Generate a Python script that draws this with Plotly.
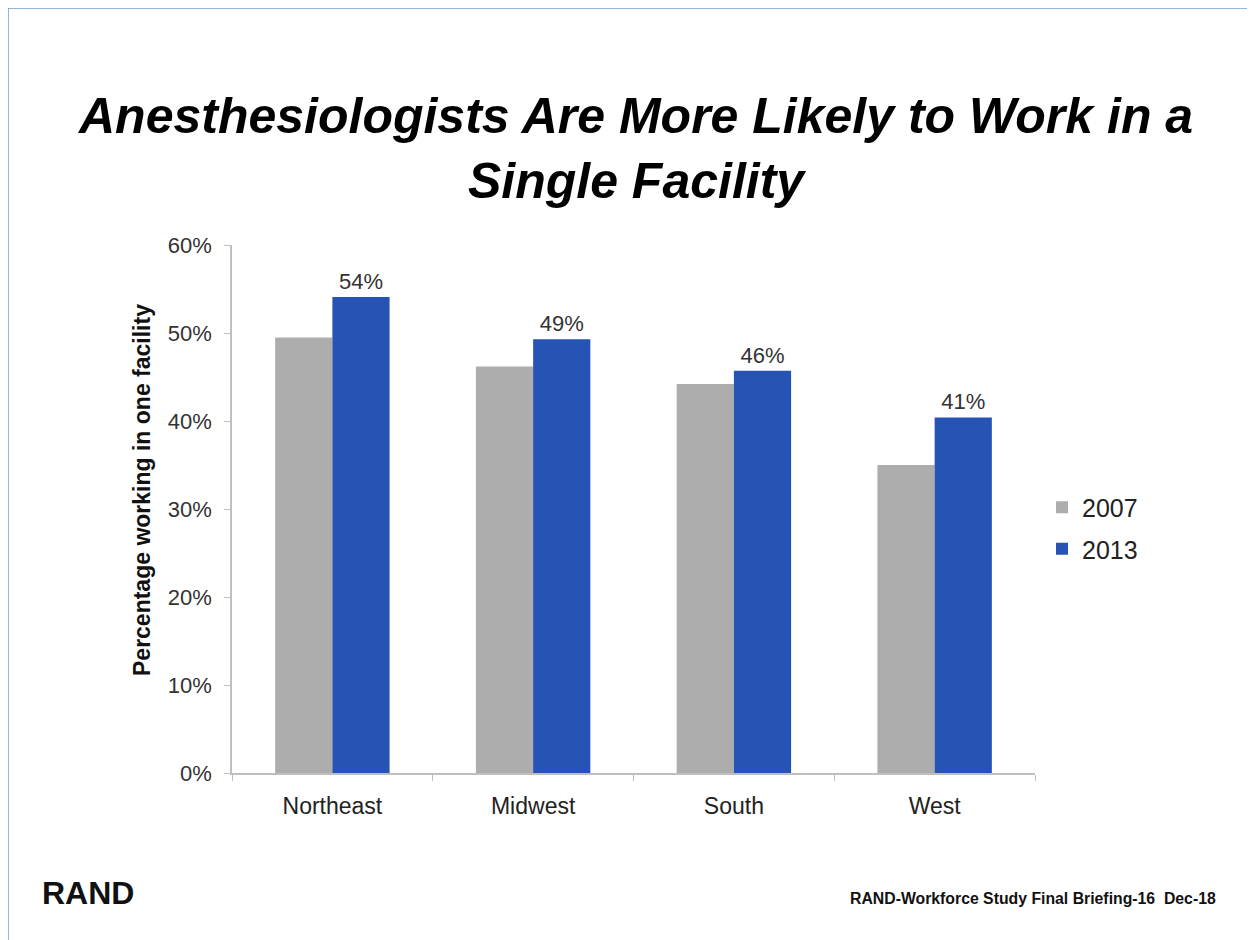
import plotly.graph_objects as go

regions = ["Northeast", "Midwest", "South", "West"]
vals_2007 = [0.495, 0.462, 0.442, 0.350]
vals_2013 = [0.541, 0.493, 0.457, 0.404]
labels_2013 = ["54%", "49%", "46%", "41%"]
y_ticks = [0, 0.1, 0.2, 0.3, 0.4, 0.5, 0.6]
y_tick_text = ["0%", "10%", "20%", "30%", "40%", "50%", "60%"]

W, H = 1255, 940
OFF = 8  # page body margin
L, R, T, B = 232, 1035, 245, 773  # plot area in page pixels


def px(x):
    return (x - L) / (R - L)


def py(y):
    return (B - y) / (B - T)


font = "Liberation Sans, Arial, sans-serif"

fig = go.Figure()
fig.add_trace(go.Bar(
    x=regions, y=vals_2007, name="2007", marker_color="#ADADAD",
    marker_line_width=0, legendgroup="a",
))
fig.add_trace(go.Bar(
    x=regions, y=vals_2013, name="2013", marker_color="#2653B5",
    marker_line_width=0, legendgroup="b",
    text=labels_2013, textposition="outside", cliponaxis=False,
    textfont=dict(size=22, color="#333333", family=font),
))

fig.update_layout(
    width=W - OFF, height=H - OFF,
    margin=dict(l=L - OFF, r=W - R, t=T - OFF, b=H - B, autoexpand=False),
    paper_bgcolor="white", plot_bgcolor="white",
    barmode="group", bargap=0.43, bargroupgap=0,
    font=dict(family=font, color="#222222"),
    showlegend=True,
    legend=dict(
        x=px(1042), y=py(528), xanchor="left", yanchor="middle",
        font=dict(size=25, color="#222222", family=font),
        traceorder="grouped", tracegroupgap=6,
        itemwidth=30, bgcolor="rgba(0,0,0,0)",
    ),
    xaxis=dict(
        showline=True, linecolor="#BFBFBF", linewidth=1.5,
        ticks="outside", ticklen=6, tickcolor="#BFBFBF", tickson="boundaries",
        tickfont=dict(size=23, color="#222222", family=font),
        ticklabelstandoff=12,
        showgrid=False, zeroline=False,
    ),
    yaxis=dict(
        range=[0, 0.6], tickvals=y_ticks, ticktext=y_tick_text,
        showline=True, linecolor="#BFBFBF", linewidth=1.5,
        ticks="outside", ticklen=6, tickcolor="#BFBFBF",
        tickfont=dict(size=22, color="#333333", family=font),
        ticklabelstandoff=8,
        showgrid=False, zeroline=False,
    ),
)

# Y-axis title (placed slightly above plot centre, as in the reference)
fig.add_annotation(
    text="<b>Percentage working in one facility</b>", textangle=-90,
    xref="paper", yref="paper", x=px(142), y=py(490), xanchor="center", yanchor="middle",
    showarrow=False, font=dict(size=23, color="#111111", family=font),
)

# Title
fig.add_annotation(
    text="<b><i>Anesthesiologists Are More Likely to Work in a<br>Single Facility</i></b>",
    xref="paper", yref="paper", x=px(635), y=py(148), xanchor="center", yanchor="middle",
    showarrow=False, font=dict(size=50, color="#000000", family=font), align="center",
)

# Footer
fig.add_annotation(
    text="<b>RAND</b>", xref="paper", yref="paper", x=px(40), y=py(893),
    xanchor="left", yanchor="middle", showarrow=False,
    font=dict(size=32, color="#111111", family=font),
)
fig.add_annotation(
    text="<b>RAND-Workforce Study Final Briefing-16  Dec-18</b>", xref="paper", yref="paper",
    x=px(1218), y=py(898), xanchor="right", yanchor="middle", showarrow=False,
    font=dict(size=15.8, color="#111111", family=font),
)

# Slide frame
frame = "#6F9BD1"
fig.add_shape(type="line", xref="paper", yref="paper", x0=px(8), x1=px(1270), y0=py(8), y1=py(8),
              line=dict(color=frame, width=1.5))
fig.add_shape(type="line", xref="paper", yref="paper", x0=px(8), x1=px(8), y0=py(8), y1=py(950),
              line=dict(color=frame, width=1.5))

fig.write_html("out.html")
